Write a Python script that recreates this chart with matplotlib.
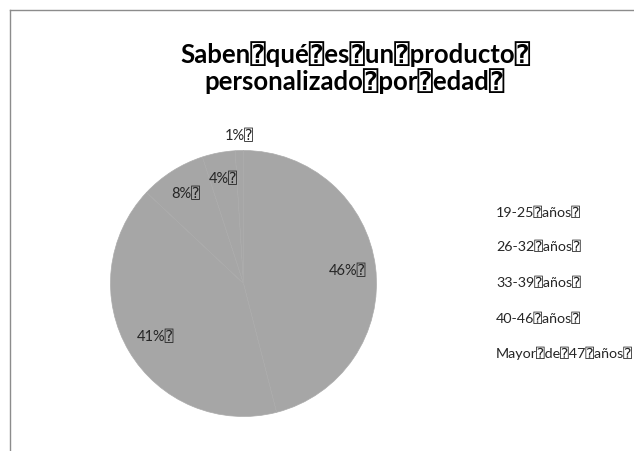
import matplotlib.pyplot as plt
import numpy as np

plt.rcParams['font.family'] = ['Lato', 'DejaVu Sans', 'DejaVu Sans Mono']

B = '\u2370'  # box glyph that stands in the exported text

title_lines = ['Saben' + B + 'qué' + B + 'es' + B + 'un' + B + 'producto' + B,
               'personalizado' + B + 'por' + B + 'edad' + B]
age_groups = ['19-25' + B + 'años' + B, '26-32' + B + 'años' + B, '33-39' + B + 'años' + B,
              '40-46' + B + 'años' + B, 'Mayor' + B + 'de' + B + '47' + B + 'años' + B]
percent = [46, 41, 8, 4, 1]
# how far out each percentage label sits, in pie radii
label_dist = [0.79, 0.77, 0.81, 0.81, 1.12]

fig = plt.figure(figsize=(6.34, 4.52), dpi=100)

# chart frame (only the top and left edges fall inside the image)
fig.add_artist(plt.Line2D([10 / 634, 1], [1 - 11 / 452, 1 - 11 / 452], color='#8c8c8c', lw=1))
fig.add_artist(plt.Line2D([10 / 634, 10 / 634], [0, 1 - 11 / 452], color='#8c8c8c', lw=1))

cx, cy, r = 243.5 / 634, 1 - 284.5 / 452, 133
ax = fig.add_axes([cx - r / 634, cy - r / 452, 2 * r / 634, 2 * r / 452])
wedges, _ = ax.pie(percent, colors=['#a6a6a6'] * len(percent), startangle=90,
                   counterclock=False, radius=1,
                   wedgeprops=dict(edgecolor='#ababab', linewidth=0.5))
ax.set_xlim(-1, 1)
ax.set_ylim(-1, 1)
ax.axis('off')

for w, p, d in zip(wedges, percent, label_dist):
    ang = np.deg2rad((w.theta1 + w.theta2) / 2)
    ax.text(d * np.cos(ang), d * np.sin(ang), f'{p}%' + B, ha='center', va='center',
            fontsize=10.5, color='#262626', clip_on=False)

fig.text(0.56, 1 - 41 / 452, '\n'.join(title_lines), ha='center', va='top',
         fontsize=18.5, fontweight='bold', color='black', linespacing=1.08)

leg_y = [213, 247, 283, 319, 353]
for name, y in zip(age_groups, leg_y):
    fig.text(496 / 634, 1 - y / 452, name, ha='left', va='center', fontsize=10.3, color='#262626')

fig.savefig('out.png', dpi=100)
